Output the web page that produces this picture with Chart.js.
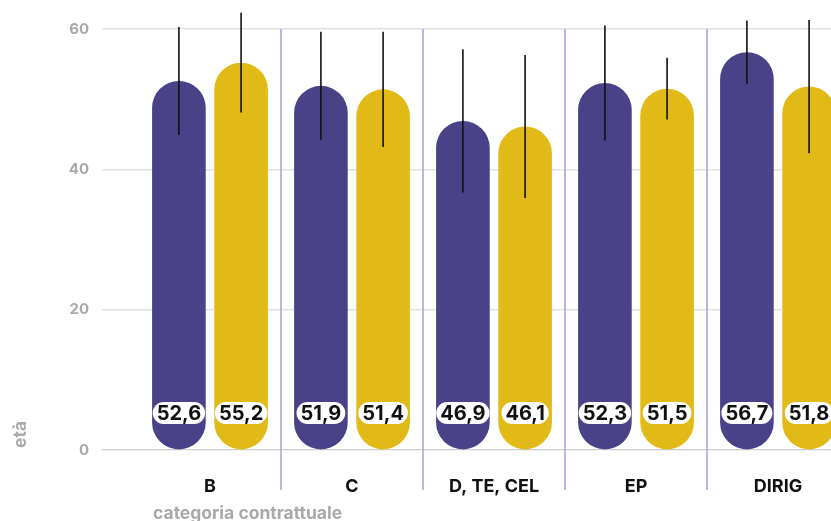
<!DOCTYPE html>
<html>
<head>
<meta charset="utf-8">
<script src="https://cdn.jsdelivr.net/npm/chart.js@4.4.1/dist/chart.umd.min.js"></script>
<style>
  html, body { margin: 0; padding: 0; background: #fff; overflow: hidden; }
  #wrap { width: 880px; height: 535px; }
</style>
</head>
<body>
<div id="wrap"><canvas id="etaChart"></canvas></div>
<script>
// Data
const categories = ['B', 'C', 'D, TE, CEL', 'EP', 'DIRIG'];
const mediaViola = [52.6, 51.9, 46.9, 52.3, 56.7];
const mediaGialla = [55.2, 51.4, 46.1, 51.5, 51.8];
const devViola = [7.7, 7.7, 10.2, 8.2, 4.5];
const devGialla = [7.1, 8.2, 10.2, 4.4, 9.5];
const yTicks = [0, 20, 40, 60];

const viola = '#4a4289';
const giallo = '#e2ba18';
const grigio = '#a9a9a9';
const fontFam = 'Inter, "Noto Sans", sans-serif';

const fmt = v => v.toFixed(1).replace('.', ',');

// separators between categories
const separatori = {
  id: 'separatori',
  beforeDatasetsDraw(chart) {
    const { ctx, chartArea, scales: { x } } = chart;
    ctx.save();
    ctx.strokeStyle = '#a59de0';
    ctx.lineWidth = 1.5;
    for (let i = 1; i < categories.length; i++) {
      const px = (x.getPixelForTick(i - 1) + x.getPixelForTick(i)) / 2;
      ctx.beginPath();
      ctx.moveTo(px, chartArea.top);
      ctx.lineTo(px, chartArea.bottom + 40);
      ctx.stroke();
    }
    ctx.restore();
  }
};

// error bars + value pills
const barreErrore = {
  id: 'barreErrore',
  afterDatasetsDraw(chart) {
    const { ctx, scales: { y } } = chart;
    const devs = [devViola, devGialla];
    ctx.save();
    chart.data.datasets.forEach((ds, di) => {
      const meta = chart.getDatasetMeta(di);
      meta.data.forEach((bar, i) => {
        const v = ds.data[i];
        const sd = devs[di][i];
        ctx.strokeStyle = '#111';
        ctx.lineWidth = 1.6;
        ctx.beginPath();
        ctx.moveTo(bar.x, y.getPixelForValue(v + sd));
        ctx.lineTo(bar.x, y.getPixelForValue(v - sd));
        ctx.stroke();
      });
    });
    // pills
    ctx.font = 'bold 20px ' + fontFam;
    ctx.textAlign = 'center';
    ctx.textBaseline = 'middle';
    chart.data.datasets.forEach((ds, di) => {
      const meta = chart.getDatasetMeta(di);
      meta.data.forEach((bar, i) => {
        const txt = fmt(ds.data[i]);
        const w = ctx.measureText(txt).width + 8;
        const h = 22;
        const cy = y.getPixelForValue(0) - 37;
        ctx.fillStyle = '#fff';
        ctx.beginPath();
        ctx.roundRect(bar.x - w / 2, cy - h / 2, w, h, h / 2);
        ctx.fill();
        ctx.fillStyle = '#111';
        ctx.fillText(txt, bar.x, cy + 1);
      });
    });
    ctx.restore();
  }
};

// axis titles
const titoliAssi = {
  id: 'titoliAssi',
  afterDraw(chart) {
    const { ctx, chartArea } = chart;
    ctx.save();
    ctx.fillStyle = grigio;
    ctx.font = 'bold 17.5px ' + fontFam;
    ctx.textAlign = 'left';
    ctx.textBaseline = 'alphabetic';
    ctx.fillText('categoria contrattuale', chartArea.left + 14, 519);
    ctx.translate(26, chartArea.bottom - 2);
    ctx.rotate(-Math.PI / 2);
    ctx.fillText('età', 0, 0);
    ctx.restore();
  }
};

const ctx = document.getElementById('etaChart').getContext('2d');
const etaChart = new Chart(ctx, {
  type: 'bar',
  data: {
    labels: categories,
    datasets: [
      { label: 'gruppo 1', data: mediaViola, backgroundColor: viola },
      { label: 'gruppo 2', data: mediaGialla, backgroundColor: giallo }
    ]
  },
  options: {
    responsive: true,
    maintainAspectRatio: false,
    animation: false,
    layout: { padding: { top: 29, right: 31, left: 0, bottom: 0 } },
    datasets: {
      bar: {
        categoryPercentage: 0.876,
        barPercentage: 0.862,
        borderRadius: 40,
        borderSkipped: false
      }
    },
    plugins: {
      legend: { display: false },
      tooltip: { enabled: false }
    },
    scales: {
      x: {
        grid: { display: false, drawTicks: false },
        border: { display: false },
        ticks: {
          color: '#111',
          padding: 26,
          font: { family: fontFam, size: 18, weight: 'bold' }
        },
        afterFit(scale) { scale.height = 85; }
      },
      y: {
        min: 0,
        max: 60,
        border: { display: false },
        grid: {
          color: c => c.tick && c.tick.value === 0 ? '#cdcdcd' : '#e1e1e1',
          lineWidth: c => c.tick && c.tick.value === 0 ? 1.2 : 1.6,
          drawTicks: true,
          tickLength: 37
        },
        afterBuildTicks(scale) { scale.ticks = yTicks.map(v => ({ value: v })); },
        ticks: {
          color: grigio,
          padding: 13,
          font: { family: fontFam, size: 15, weight: 'bold' }
        },
        afterFit(scale) { scale.width = 139; }
      }
    }
  },
  plugins: [separatori, barreErrore, titoliAssi]
});
</script>
</body>
</html>
